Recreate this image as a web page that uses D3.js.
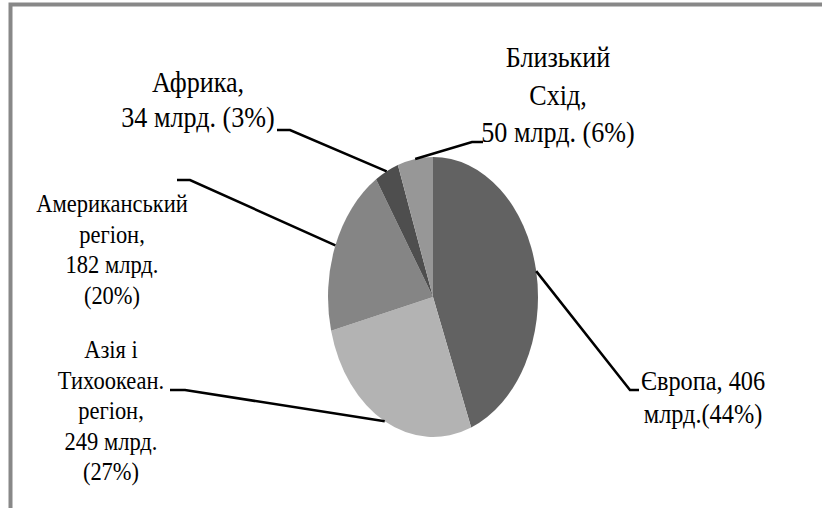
<!DOCTYPE html>
<html>
<head>
<meta charset="utf-8">
<script src="https://cdn.jsdelivr.net/npm/d3@7"></script>
</head>
<body style="margin:0">
<div id="chart"></div>
<script>
// data (clockwise from 12 o'clock)
const regions = ["Європа", "Азія і Тихоокеан. регіон", "Американський регіон", "Африка", "Близький Схід"];
const values = [406, 249, 182, 34, 50];
const labelLines = [
    ["Європа, 406", "млрд.(44%)"],
    ["Азія і", "Тихоокеан.", "регіон,", "249 млрд.", "(27%)"],
    ["Американський", "регіон,", "182 млрд.", "(20%)"],
    ["Африка,", "34 млрд. (3%)"],
    ["Близький", "Схід,", "50 млрд. (6%)"]
];
const sliceColors = ["#626262", "#b3b3b3", "#858585", "#4e4e4e", "#979797"];

// layout of the labels and leader lines
const labelLayout = [
    { cx: 703, y0: 390, lh: 33, size: 27, tick: [[639, 390], [630, 390]] },
    { cx: 111, y0: 358, lh: 30.5, size: 25, tick: [[170, 390], [185, 390]] },
    { cx: 112, y0: 212, lh: 30.5, size: 25, tick: [[177, 180], [190, 180]] },
    { cx: 198, y0: 92, lh: 35, size: 29, tick: [[277, 130], [290, 130]] },
    { cx: 558, y0: 67, lh: 37.5, size: 29, tick: [[483, 142], [472, 142]] }
];

const width = 822, height = 508;
const cx = 433, cy = 297, rx = 105, ry = 140;
const squeeze = 0.9;

const svg = d3.select("#chart")
    .append("svg")
    .attr("width", width)
    .attr("height", height)
    .style("display", "block");

// frame (top and left edges only are visible)
svg.append("path")
    .attr("d", `M10.5,${height} V4.5 H${width}`)
    .attr("fill", "none")
    .attr("stroke", "#888")
    .attr("stroke-width", 4);

const pie = d3.pie().sort(null).value(d => d);
const arcs = pie(values);

const arc = d3.arc().innerRadius(0).outerRadius(ry);

svg.append("g")
    .attr("transform", `translate(${cx}, ${cy}) scale(${rx / ry}, 1)`)
    .selectAll("path")
    .data(arcs)
    .join("path")
    .attr("d", arc)
    .attr("fill", (d, i) => sliceColors[i]);

// leader lines: from label tick to middle of slice edge
const line = d3.line();
svg.append("g")
    .selectAll("path")
    .data(arcs)
    .join("path")
    .attr("d", (d, i) => {
        const mid = (d.startAngle + d.endAngle) / 2;
        const edge = [cx + rx * Math.sin(mid), cy - ry * Math.cos(mid)];
        return line(labelLayout[i].tick.concat([edge]));
    })
    .attr("fill", "none")
    .attr("stroke", "#000")
    .attr("stroke-width", 2.5);

// labels (narrowed with textLength)
const rows = labelLines.flatMap((lines, i) =>
    lines.map((t, j) => ({ t, j, l: labelLayout[i] })));

const texts = svg.append("g")
    .selectAll("text")
    .data(rows)
    .join("text")
    .attr("x", d => d.l.cx)
    .attr("y", d => d.l.y0 + d.j * d.l.lh)
    .attr("text-anchor", "middle")
    .attr("font-family", "Liberation Serif")
    .style("font-family", '"Liberation Serif"')
    .style("font-size", d => d.l.size + "px")
    .attr("fill", "#000")
    .text(d => d.t);

texts.each(function () {
    const w = this.getComputedTextLength();
    d3.select(this)
        .attr("textLength", (w * squeeze).toFixed(1))
        .attr("lengthAdjust", "spacingAndGlyphs");
});
</script>
</body>
</html>
